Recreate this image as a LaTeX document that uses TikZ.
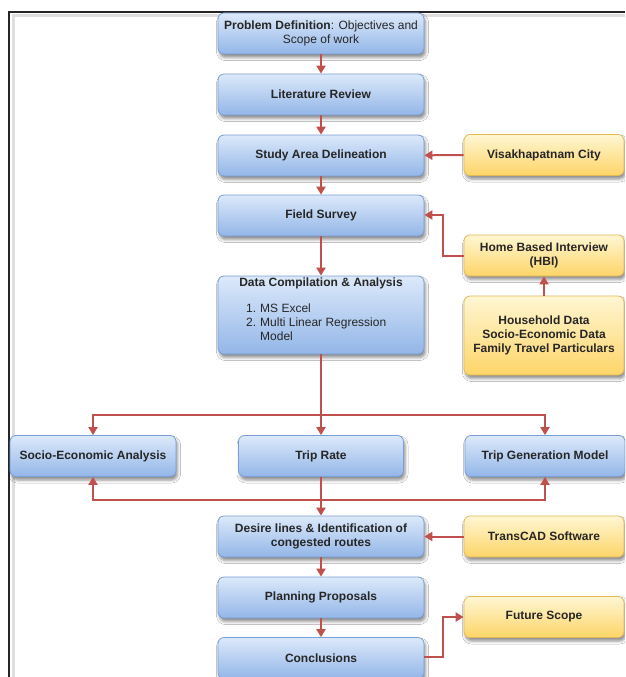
\documentclass[tikz,border=0pt]{standalone}
\usepackage{fontspec}
\setmainfont{Liberation Sans}
\usetikzlibrary{arrows.meta,shadows.blur}
\definecolor{bluetop}{HTML}{DCE9FA}
\definecolor{bluebot}{HTML}{93B6E8}
\definecolor{blueline}{HTML}{7A9ED6}
\definecolor{yeltop}{HTML}{FFF6D2}
\definecolor{yelbot}{HTML}{FDD568}
\definecolor{yelline}{HTML}{E3B955}
\definecolor{arrowred}{HTML}{C0504D}
\definecolor{txt}{HTML}{262626}
\tikzset{
  box/.style={rounded corners=6pt, minimum height=41pt, inner sep=2pt,
    align=center, text=txt, line width=0.8pt,
    font=\fontsize{12}{14}\selectfont\bfseries,
    blur shadow={shadow xshift=1.5pt, shadow yshift=-3.5pt, shadow blur radius=3pt, shadow opacity=45}},
  bluebox/.style={box, draw=blueline, top color=bluetop, bottom color=bluebot},
  yelbox/.style={box, draw=yelline, top color=yeltop, bottom color=yelbot},
  conn/.style={draw=arrowred, line width=2pt, -{Triangle[length=8pt,width=9pt]}},
  plain/.style={text=txt, font=\fontsize{12}{14}\selectfont, inner sep=0pt}
}
\begin{document}
\begin{tikzpicture}[x=1pt,y=-1pt]
\useasboundingbox (0,0) rectangle (625,677);
\clip (0,0) rectangle (625,677);
\fill[white] (0,0) rectangle (625,677);
% frame
\draw[gray!25, line width=3pt] (13,677) -- (13,16) -- (625,16);
\draw[black!85, line width=1.8pt] (9,677) -- (9,12) -- (625,12);
% main column
\node[bluebox, minimum width=206pt] (prob) at (321,33.5) {Problem Definition\mdseries: Objectives and\\\mdseries Scope of work};
\node[bluebox, minimum width=206pt] (lit) at (321,94.5) {Literature Review};
\node[bluebox, minimum width=206pt] (study) at (321,155.5) {Study Area Delineation};
\node[bluebox, minimum width=206pt] (field) at (321,215.5) {Field Survey};
\node[bluebox, minimum width=206pt, minimum height=78pt] (data) at (321,315) {};
\node[plain, font=\fontsize{12}{14}\selectfont\bfseries] (datatitle) at (321,283) {Data Compilation \& Analysis};
\node[plain, anchor=north west, align=left] (datalist) at (246,302) {%
  \begin{tabular}{@{}l@{\hspace{4pt}}l@{}}1.&MS Excel\\2.&Multi Linear Regression\\&Model\end{tabular}};
\node[bluebox, minimum width=166pt] (socio) at (93,456) {Socio-Economic Analysis};
\node[bluebox, minimum width=165pt] (trip) at (321,456) {Trip Rate};
\node[bluebox, minimum width=160pt] (tgm) at (545,456) {Trip Generation Model};
\node[bluebox, minimum width=206pt] (desire) at (321,536.5) {Desire lines \& Identification of\\congested routes};
\node[bluebox, minimum width=206pt] (plan) at (321,597.5) {Planning Proposals};
\node[bluebox, minimum width=206pt] (concl) at (321,658) {Conclusions};
% side column
\node[yelbox, minimum width=160pt] (visa) at (544,155) {Visakhapatnam City};
\node[yelbox, minimum width=160pt] (hbi) at (544,255.5) {Home Based Interview\\(HBI)};
\node[yelbox, minimum width=160pt, minimum height=79pt] (house) at (544,335.5) {Household Data\\Socio-Economic Data\\Family Travel Particulars};
\node[yelbox, minimum width=160pt] (transcad) at (544,536.5) {TransCAD Software};
\node[yelbox, minimum width=160pt] (future) at (544,617) {Future Scope};
% junctions
\coordinate (j1) at (321,415);
\coordinate (j2) at (321,500);
\coordinate (k1) at (443,0);
% connectors
\draw[conn] (prob) -- (lit);
\draw[conn] (lit) -- (study);
\draw[conn] (study) -- (field);
\draw[conn] (field) -- (data);
\draw[conn] (visa) -- (study);
\draw[conn] (hbi.west) -- (hbi.west -| k1) |- (field.east |- 0,215);
\draw[conn] (house) -- (hbi);
\draw[conn] (data) -- (trip);
\draw[conn] (j1) -| (socio.north);
\draw[conn] (j1) -| (tgm.north);
\draw[conn] (trip) -- (desire);
\draw[conn] (j2) -| (socio.south);
\draw[conn] (j2) -| (tgm.south);
\draw[conn] (transcad) -- (desire);
\draw[conn] (desire) -- (plan);
\draw[conn] (plan) -- (concl);
\draw[conn] (concl.east |- 0,657) -- (k1 |- 0,657) |- (future.west);
\end{tikzpicture}
\end{document}
